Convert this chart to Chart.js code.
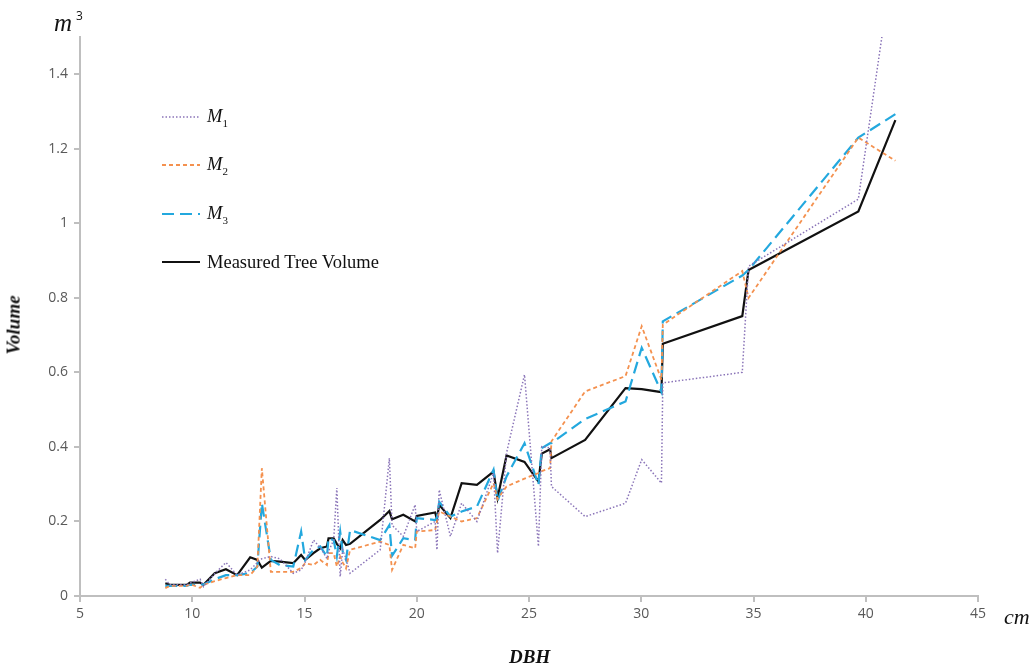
<!DOCTYPE html>
<html>
<head>
<meta charset="utf-8">
<script src="https://cdn.jsdelivr.net/npm/chart.js@4"></script>
<style>
  body { margin: 0; background: #fff; }
  #wrap { position: relative; width: 1031px; height: 668px; }
  .lbl { position: absolute; font-family: "Liberation Serif", "DejaVu Serif", serif; color: #111; white-space: nowrap; }
  .legend-item { position: absolute; left: 162px; height: 22px; display: flex; align-items: center; }
  .legend-item svg { margin-right: 7px; }
  .legend-item span { font-family: "Liberation Serif", serif; font-size: 18.5px; color: #111; }
  sub { font-size: 11px; font-style: normal; vertical-align: -5px; }
</style>
</head>
<body>
<div id="wrap">
  <canvas id="volume-chart" width="1031" height="668"></canvas>

  <div class="lbl" style="left:54px; top:7px; font-size:25px; font-style:italic;">m<span style="font-family:'Open Sans',sans-serif; font-style:normal; font-size:12px; vertical-align:11px; margin-left:4px;">3</span></div>
  <div class="lbl" style="left:-16px; top:314px; font-size:19px; font-weight:bold; font-style:italic; transform:rotate(-90deg);">Volume</div>
  <div class="lbl" style="left:509px; top:646px; font-size:19px; font-weight:bold; font-style:italic;">DBH</div>
  <div class="lbl" style="left:1004px; top:604px; font-size:22px; font-style:italic;">cm</div>

  <div class="legend-item" style="top:106px;">
    <svg width="38" height="4"><line x1="0" y1="2" x2="38" y2="2" stroke="#8a74b8" stroke-width="1.5" stroke-dasharray="1.5,2"/></svg>
    <span><i>M</i><sub>1</sub></span>
  </div>
  <div class="legend-item" style="top:154px;">
    <svg width="38" height="4"><line x1="0" y1="2" x2="38" y2="2" stroke="#f4914f" stroke-width="1.8" stroke-dasharray="4,3"/></svg>
    <span><i>M</i><sub>2</sub></span>
  </div>
  <div class="legend-item" style="top:203px;">
    <svg width="38" height="4"><line x1="0" y1="2" x2="38" y2="2" stroke="#23a8de" stroke-width="2.2" stroke-dasharray="12,6"/></svg>
    <span><i>M</i><sub>3</sub></span>
  </div>
  <div class="legend-item" style="top:251px;">
    <svg width="38" height="4"><line x1="0" y1="2" x2="38" y2="2" stroke="#111" stroke-width="2.2"/></svg>
    <span>Measured Tree Volume</span>
  </div>
</div>

<script>
// DBH (cm) of each tree, sorted
const dbh = [8.8, 9.0, 9.75, 9.9, 10.35, 10.5, 11.0, 11.5, 12.0, 12.58,
    12.9, 13.1, 13.5, 13.9, 14.5, 14.85, 15.03, 15.4, 15.7, 16.0,
    16.07, 16.3, 16.44, 16.59, 16.7, 16.85, 17.03, 18.37, 18.78, 18.9,
    19.4, 19.93, 20.0, 20.82, 20.9, 21.0, 21.5, 22.0, 22.68, 23.42,
    23.6, 24.0, 24.8, 25.42, 25.57, 25.94, 26.0, 27.5, 29.3, 30.02,
    30.9, 30.96, 34.5, 34.78, 39.67, 41.32];

// volume (m3) estimated by each model
const m1Volume = [0.045, 0.03, 0.03, 0.035, 0.045, 0.025, 0.06, 0.09, 0.056, 0.07,
    0.09, 0.1, 0.106, 0.1, 0.061, 0.07, 0.09, 0.15, 0.13, 0.1,
    0.12, 0.15, 0.29, 0.052, 0.124, 0.1, 0.061, 0.124, 0.37, 0.19,
    0.16, 0.245, 0.173, 0.2, 0.124, 0.285, 0.16, 0.249, 0.2, 0.33,
    0.115, 0.384, 0.594, 0.133, 0.401, 0.397, 0.294, 0.213, 0.249, 0.366,
    0.303, 0.572, 0.6, 0.885, 1.065, 1.75];

const m2Volume = [0.021, 0.027, 0.027, 0.032, 0.022, 0.03, 0.04, 0.048, 0.056, 0.056,
    0.079, 0.343, 0.065, 0.065, 0.065, 0.075, 0.088, 0.083, 0.097, 0.083,
    0.115, 0.115, 0.079, 0.106, 0.09, 0.074, 0.124, 0.146, 0.137, 0.07,
    0.137, 0.128, 0.173, 0.177, 0.2, 0.227, 0.213, 0.2, 0.209, 0.303,
    0.26, 0.294, 0.315, 0.33, 0.335, 0.343, 0.415, 0.549, 0.59, 0.724,
    0.58, 0.728, 0.872, 0.8, 1.23, 1.168];

const m3Volume = [0.027, 0.027, 0.027, 0.03, 0.03, 0.031, 0.045, 0.056, 0.056, 0.061,
    0.079, 0.249, 0.097, 0.083, 0.079, 0.173, 0.097, 0.124, 0.133, 0.106,
    0.155, 0.15, 0.106, 0.173, 0.12, 0.097, 0.177, 0.15, 0.19, 0.108,
    0.155, 0.15, 0.209, 0.204, 0.21, 0.253, 0.213, 0.227, 0.24, 0.339,
    0.255, 0.321, 0.41, 0.298, 0.397, 0.41, 0.41, 0.475, 0.522, 0.666,
    0.547, 0.737, 0.86, 0.875, 1.23, 1.293];

// measured volume (m3)
const measuredVolume = [0.034, 0.03, 0.03, 0.036, 0.036, 0.03, 0.061, 0.072, 0.056, 0.104,
    0.097, 0.076, 0.094, 0.092, 0.088, 0.11, 0.097, 0.115, 0.128, 0.133,
    0.155, 0.155, 0.14, 0.128, 0.15, 0.137, 0.14, 0.204, 0.228, 0.206,
    0.218, 0.2, 0.215, 0.224, 0.206, 0.245, 0.209, 0.303, 0.298, 0.334,
    0.263, 0.377, 0.36, 0.307, 0.382, 0.394, 0.37, 0.419, 0.558, 0.555,
    0.547, 0.677, 0.751, 0.875, 1.032, 1.277];

function toPoints(values) {
    return dbh.map((x, i) => ({ x: x, y: values[i] }));
}

const axisGray = '#bfbfbf';
const tickFont = { family: "'Open Sans', 'Liberation Sans', sans-serif", size: 14 };

document.addEventListener('DOMContentLoaded', function () {
    const ctx = document.getElementById('volume-chart').getContext('2d');
    new Chart(ctx, {
        type: 'line',
        data: {
            datasets: [
                {
                    label: 'M1',
                    data: toPoints(m1Volume),
                    borderColor: '#8a74b8',
                    borderWidth: 1.5,
                    borderDash: [1.5, 2],
                },
                {
                    label: 'M2',
                    data: toPoints(m2Volume),
                    borderColor: '#f4914f',
                    borderWidth: 1.8,
                    borderDash: [4, 3],
                },
                {
                    label: 'M3',
                    data: toPoints(m3Volume),
                    borderColor: '#23a8de',
                    borderWidth: 2.2,
                    borderDash: [12, 6],
                },
                {
                    label: 'Measured Tree Volume',
                    data: toPoints(measuredVolume),
                    borderColor: '#111111',
                    borderWidth: 2.2,
                },
            ],
        },
        options: {
            responsive: false,
            animation: false,
            elements: { point: { radius: 0 }, line: { tension: 0, fill: false } },
            layout: { padding: { top: 37, right: 53, left: 0, bottom: 0 } },
            plugins: { legend: { display: false }, tooltip: { enabled: false } },
            scales: {
                x: {
                    type: 'linear',
                    min: 5,
                    max: 45,
                    ticks: { stepSize: 5, color: '#595959', font: tickFont, padding: 4 },
                    grid: { drawOnChartArea: false, drawTicks: true, tickLength: 6, color: axisGray, lineWidth: 2 },
                    border: { color: axisGray, width: 2 },
                    afterFit: function (scale) { scale.height = 72; },
                },
                y: {
                    min: 0,
                    max: 1.5,
                    ticks: {
                        stepSize: 0.2,
                        includeBounds: false,
                        color: '#595959',
                        font: tickFont,
                        padding: 6,
                        callback: function (value) { return String(+value.toFixed(1)); },
                    },
                    grid: { drawOnChartArea: false, drawTicks: true, tickLength: 6, color: axisGray, lineWidth: 2 },
                    border: { color: axisGray, width: 2 },
                    afterFit: function (scale) { scale.width = 80; },
                },
            },
        },
    });
});
</script>
</body>
</html>
